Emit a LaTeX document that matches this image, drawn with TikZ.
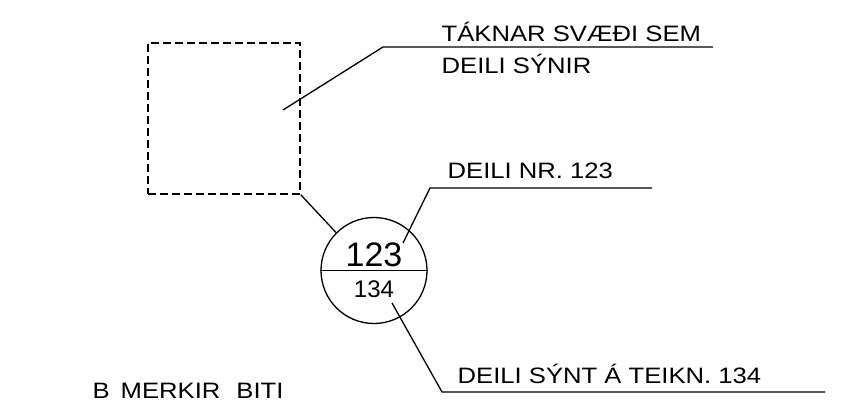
\documentclass[tikz,border=0pt]{standalone}
\usepackage{fontspec}
\setmainfont{Liberation Sans}[FakeStretch=1.15]
\newfontfamily\numfont{Liberation Sans}
\begin{document}
\begin{tikzpicture}[x=1pt,y=-1pt,line width=1.3pt,
    txt/.style={anchor=base west,inner sep=0pt,font=\fontsize{22.3}{26}\selectfont}]
            \useasboundingbox (0,0) rectangle (843,411);
            % area and tag
            \node[draw,dash pattern=on 8pt off 4pt,minimum width=152,minimum height=151,inner sep=0pt] (area) at (224,118.5) {};
            \node[draw,circle,minimum size=106,inner sep=0pt] (tag) at (374,270.5) {};
            \draw (tag.west) -- (tag.east);
            \node[inner sep=0pt,anchor=base,font=\numfont\fontsize{34}{34}\selectfont] (top) at (374,266.5) {123};
            \node[inner sep=0pt,anchor=base,font=\numfont\fontsize{24}{24}\selectfont] (bot) at (374,298) {134};
            % texts
            \node[txt] (t1) at (441,41.7) {TÁKNAR SVÆÐI SEM};
            \node[txt] (t2) at (441,74) {DEILI SÝNIR};
            \node[txt] (t3) at (447,179) {DEILI NR. 123};
            \node[txt] (t4) at (457,384) {DEILI SÝNT Á TEIKN. 134};
            \node[txt] (t5) at (92,398) {B\hspace{11pt}MERKIR\hspace{16pt}BITI};
            % leaders
            \coordinate (a1) at (283,110);
            \coordinate (a2) at (383,47);
            \coordinate (a3) at (713,47);
            \draw (a1) -- (a2) -- (a3);
            \draw (area.south east) -- (tag.135);
            \coordinate (b1) at (403,243);
            \coordinate (b2) at (430,188);
            \coordinate (b3) at (652,188);
            \draw (b1) -- (b2) -- (b3);
            \coordinate (c1) at (392,303);
            \coordinate (c2) at (442,392);
            \coordinate (c3) at (825,392);
            \draw (c1) -- (c2) -- (c3);
        \end{tikzpicture}
\end{document}
